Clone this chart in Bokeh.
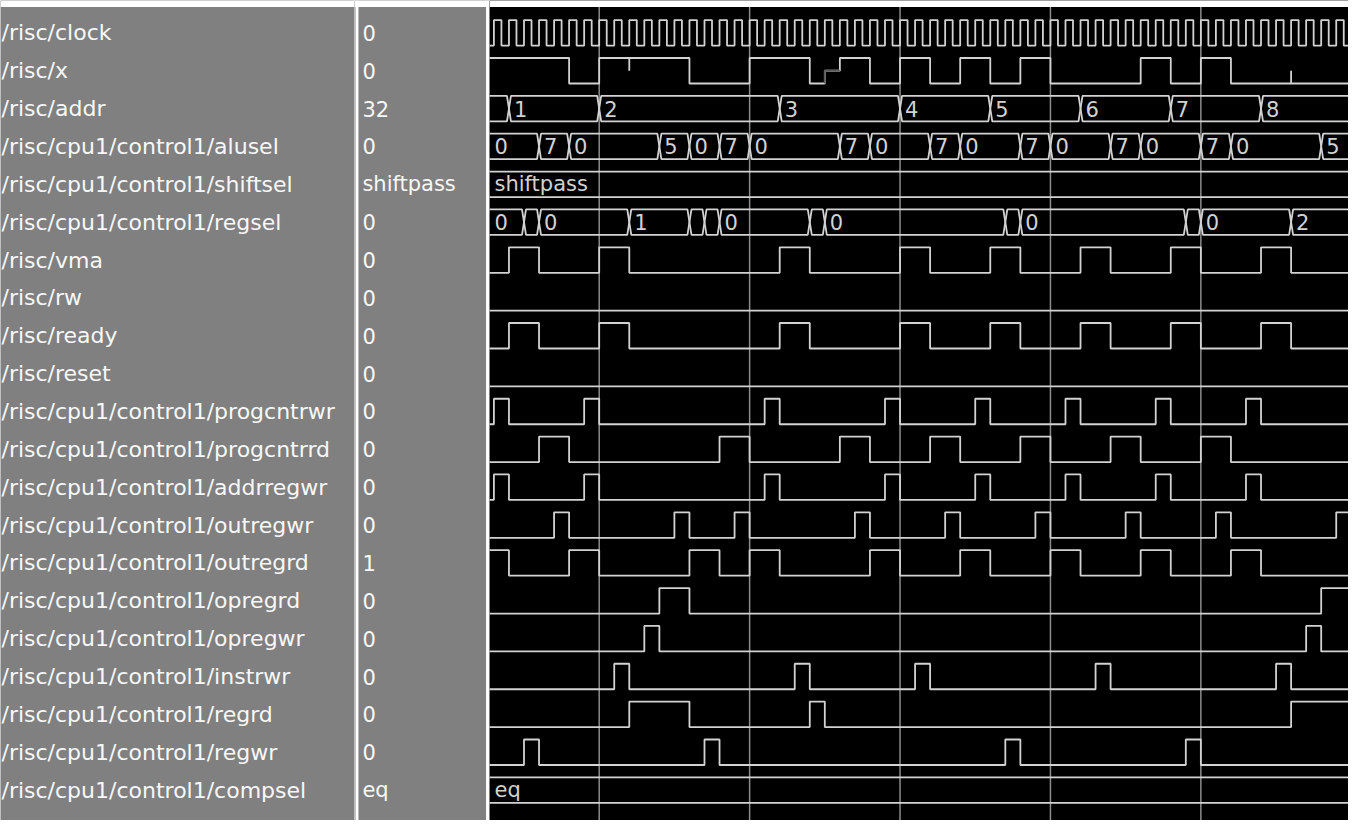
from bokeh.plotting import figure
from bokeh.layouts import row
from bokeh.models import Range1d, Span, BoxAnnotation
from bokeh.core.properties import value
from bokeh.embed import file_html
from bokeh.resources import INLINE

# ---------------- data (times in ns) ----------------
signal_names = [
    "/risc/clock", "/risc/x", "/risc/addr",
    "/risc/cpu1/control1/alusel", "/risc/cpu1/control1/shiftsel",
    "/risc/cpu1/control1/regsel", "/risc/vma", "/risc/rw", "/risc/ready",
    "/risc/reset", "/risc/cpu1/control1/progcntrwr",
    "/risc/cpu1/control1/progcntrrd", "/risc/cpu1/control1/addrregwr",
    "/risc/cpu1/control1/outregwr", "/risc/cpu1/control1/outregrd",
    "/risc/cpu1/control1/opregrd", "/risc/cpu1/control1/opregwr",
    "/risc/cpu1/control1/instrwr", "/risc/cpu1/control1/regrd",
    "/risc/cpu1/control1/regwr", "/risc/cpu1/control1/compsel",
]
cursor_values = ["0", "0", "32", "0", "shiftpass", "0", "0", "0", "0", "0",
                 "0", "0", "0", "0", "1", "0", "0", "0", "0", "0", "eq"]

grid_ticks_ns = [100, 200, 300, 400, 500]

# clock: toggle times, first level 1
clock_edges = [20, 25, 30, 35, 40, 45, 50, 55, 60, 65, 70, 75, 80, 85, 90, 95,
               100, 105, 110, 115, 120, 125, 130, 135, 140, 145, 150, 155, 160,
               165, 170, 175, 180, 185, 190, 195, 200, 205, 210, 215, 220, 225,
               230, 235, 240, 245, 250, 255, 260, 265, 270, 275, 280, 285, 290,
               295, 300, 305, 310, 315, 320, 325, 330, 335, 340, 345, 350, 355,
               360, 365, 370, 375, 380, 385, 390, 395, 400, 405, 410, 415, 420,
               425, 430, 435, 440, 445, 450, 455, 460, 465, 470, 475, 480, 485,
               490, 495, 500, 505, 510, 515, 520, 525, 530, 535, 540, 545, 550,
               555, 560, 565, 570, 575, 580, 585, 590, 595, 600]
clock_first_level = 1

x_times = [20, 80, 100, 160, 200, 240, 250, 260, 280, 300, 320, 340, 360, 380,
           400, 460, 480, 500, 520]
x_levels = [1, 0, 1, 0, 1, 0, "X", 1, 0, 1, 0, 1, 0, 1, 0, 1, 0, 1, 0]
x_glitch_times = [120, 560]

addr_times = [20, 40, 100, 220, 300, 360, 420, 480, 540]
addr_values = ["0", "1", "2", "3", "4", "5", "6", "7", "8"]

alusel_times = [20, 60, 80, 140, 160, 180, 200, 260, 280, 320, 340, 380, 400,
                440, 460, 500, 520, 580]
alusel_values = ["0", "7", "0", "5", "0", "7", "0", "7", "0", "7", "0", "7",
                 "0", "7", "0", "7", "0", "5"]

shiftsel_times = [20]
shiftsel_values = ["shiftpass"]

regsel_times = [20, 50, 60, 120, 160, 170, 180, 240, 250, 370, 380, 490, 500, 560]
regsel_values = ["0", "2", "0", "1", "2", "1", "0", "1", "0", "1", "0", "1",
                 "0", "2"]

vma_times = [20, 40, 60, 100, 120, 220, 240, 300, 320, 360, 380, 420, 440, 480,
             500, 540, 560]
vma_levels = [0, 1, 0, 1, 0, 1, 0, 1, 0, 1, 0, 1, 0, 1, 0, 1, 0]

rw_times = [20]
rw_levels = [0]

ready_times = [20, 40, 60, 100, 120, 220, 240, 300, 320, 360, 380, 420, 440,
               480, 500, 540, 560]
ready_levels = [0, 1, 0, 1, 0, 1, 0, 1, 0, 1, 0, 1, 0, 1, 0, 1, 0]

reset_times = [20]
reset_levels = [0]

progcntrwr_times = [20, 30, 40, 90, 100, 210, 220, 290, 300, 350, 360, 410, 420,
                    470, 480, 530, 540]
progcntrwr_levels = [0, 1, 0, 1, 0, 1, 0, 1, 0, 1, 0, 1, 0, 1, 0, 1, 0]

progcntrrd_times = [20, 60, 80, 180, 200, 260, 280, 320, 340, 380, 400, 440,
                    460, 500, 520]
progcntrrd_levels = [0, 1, 0, 1, 0, 1, 0, 1, 0, 1, 0, 1, 0, 1, 0]

addrregwr_times = [20, 30, 40, 90, 100, 210, 220, 290, 300, 350, 360, 410, 420,
                   470, 480, 530, 540]
addrregwr_levels = [0, 1, 0, 1, 0, 1, 0, 1, 0, 1, 0, 1, 0, 1, 0, 1, 0]

outregwr_times = [20, 70, 80, 150, 160, 190, 200, 270, 280, 330, 340, 390, 400,
                  450, 460, 510, 520, 590]
outregwr_levels = [0, 1, 0, 1, 0, 1, 0, 1, 0, 1, 0, 1, 0, 1, 0, 1, 0, 1]

outregrd_times = [20, 40, 80, 100, 160, 180, 200, 220, 280, 300, 340, 360, 400,
                  420, 460, 480, 520, 540]
outregrd_levels = [1, 0, 1, 0, 1, 0, 1, 0, 1, 0, 1, 0, 1, 0, 1, 0, 1, 0]

opregrd_times = [20, 140, 160, 580]
opregrd_levels = [0, 1, 0, 1]

opregwr_times = [20, 130, 140, 570, 580]
opregwr_levels = [0, 1, 0, 1, 0]

instrwr_times = [20, 110, 120, 230, 240, 310, 320, 430, 440, 550, 560]
instrwr_levels = [0, 1, 0, 1, 0, 1, 0, 1, 0, 1, 0]

regrd_times = [20, 120, 160, 240, 250, 560]
regrd_levels = [0, 1, 0, 1, 0, 1]

regwr_times = [20, 50, 60, 170, 180, 370, 380, 490, 500]
regwr_levels = [0, 1, 0, 1, 0, 1, 0, 1, 0]

compsel_times = [20]
compsel_values = ["eq"]

# ---------------- layout / style ----------------
# reference geometry is 1364x836; the page gets 1348x820, so scale to fit
REF_W, REF_H = 1364.0, 836.0
PAGE_W, H = 1348, 820
SX = PAGE_W / REF_W

ROW_PX = 38.6              # row pitch in reference pixels
CENTER0_PX = 33.0          # centre of first row (reference pixels)
Y_TOP = (0 - CENTER0_PX) / ROW_PX
Y_BOT = (REF_H - CENTER0_PX) / ROW_PX
WHITE_BAND_Y = (6.5 - CENTER0_PX) / ROW_PX
AMP = 13.0 / ROW_PX

NAMES_REF_END = 358.0
VALUES_REF_END = 495.0
NAMES_W = round(NAMES_REF_END * SX)
VALUES_W = round((VALUES_REF_END - NAMES_REF_END) * SX)
WAVE_W = PAGE_W - NAMES_W - VALUES_W
NS_PX = 1.522 * SX          # page pixels per ns
T_VIEW_START = 27.07
T_VIEW_END = T_VIEW_START + WAVE_W / NS_PX
T_FAR = T_VIEW_END + 40
BUS_D = 2.0 / NS_PX
LABEL_MIN_NS = 15

PANEL_BG = "#808080"
TEXT_COL = "#f8f8f8"
SIG_COL = "#d2d2d2"
DIM_COL = "#5c5c5c"
GRID_COL = "#8c8c8c"
FONT = "DejaVu Sans"
NAME_FSIZE = "22px"
FSIZE = "21px"


def make_fig(w, xr, bg):
    p = figure(width=w, height=H, x_range=xr, y_range=Range1d(Y_BOT, Y_TOP),
               output_backend="svg", toolbar_location=None, min_border=0,
               x_axis_location=None, y_axis_location=None,
               background_fill_color=bg, border_fill_color=bg,
               outline_line_color=None)
    p.grid.visible = False
    p.add_layout(BoxAnnotation(bottom=WHITE_BAND_Y, fill_color="#ffffff",
                               fill_alpha=1.0, line_color=None))
    return p


rows_idx = list(range(len(signal_names)))

# names panel (x in reference pixels)
p_names = make_fig(NAMES_W, Range1d(0, NAMES_REF_END), PANEL_BG)
p_names.text(x=[1] * len(signal_names), y=rows_idx, text=signal_names,
             text_color=TEXT_COL, text_font=value(FONT),
             text_font_size=NAME_FSIZE,
             text_baseline="middle", text_align="left")

# values panel (x in reference pixels)
p_vals = make_fig(VALUES_W, Range1d(NAMES_REF_END, VALUES_REF_END), PANEL_BG)
p_vals.add_layout(Span(location=360.5, dimension="height", line_color="#ffffff",
                       line_width=3))
p_vals.add_layout(Span(location=493, dimension="height", line_color="#ffffff",
                       line_width=3))
p_vals.text(x=[366] * len(cursor_values), y=rows_idx, text=cursor_values,
            text_color=TEXT_COL, text_font=value(FONT), text_font_size=FSIZE,
            text_baseline="middle", text_align="left")

# wave panel (x in ns)
p_wave = make_fig(WAVE_W, Range1d(T_VIEW_START, T_VIEW_END), "#000000")
for t in grid_ticks_ns:
    p_wave.add_layout(Span(location=t, dimension="height", line_color=GRID_COL,
                           line_width=1.5, level="underlay"))


def ly(i, lv):
    if lv == 1:
        return i - AMP
    if lv == 0:
        return i + AMP
    return i


def draw_bits(i, times, levels):
    xs = list(times) + [T_FAR]
    ys = [ly(i, lv) for lv in levels] + [ly(i, levels[-1])]
    p_wave.step(xs, ys, mode="after", line_color=SIG_COL, line_width=1.8)
    # unknown segments drawn dim
    for k, lv in enumerate(levels):
        if lv == "X" and k > 0:
            b = times[k + 1] if k + 1 < len(times) else T_FAR
            p_wave.line([times[k], times[k], b], [ly(i, levels[k - 1]), i, i],
                        line_color=DIM_COL, line_width=1.8)


label_x, label_y, label_t = [], [], []


def draw_bus(i, times, vals):
    ends = list(times[1:]) + [T_FAR]
    xs_all, ys_all = [], []
    for a, b, v in zip(times, ends, vals):
        xs_all.append([a, a + BUS_D, b - BUS_D, b, b - BUS_D, a + BUS_D, a])
        ys_all.append([i, i - AMP, i - AMP, i, i + AMP, i + AMP, i])
        vis_a = max(a, T_VIEW_START)
        if min(b, T_FAR) - vis_a >= LABEL_MIN_NS:
            label_x.append(vis_a)
            label_y.append(i)
            label_t.append(v)
    p_wave.multi_line(xs_all, ys_all, line_color=SIG_COL, line_width=1.8)


# clock
clk_levels = []
lv = clock_first_level
for _ in clock_edges:
    clk_levels.append(lv)
    lv = 1 - lv
draw_bits(0, clock_edges, clk_levels)

draw_bits(1, x_times, x_levels)
p_wave.segment(x0=x_glitch_times, y0=[ly(1, 1), ly(1, 0)], x1=x_glitch_times,
               y1=[1, 1], line_color=SIG_COL, line_width=1.8)

draw_bus(2, addr_times, addr_values)
draw_bus(3, alusel_times, alusel_values)
draw_bus(4, shiftsel_times, shiftsel_values)
draw_bus(5, regsel_times, regsel_values)
draw_bits(6, vma_times, vma_levels)
draw_bits(7, rw_times, rw_levels)
draw_bits(8, ready_times, ready_levels)
draw_bits(9, reset_times, reset_levels)
draw_bits(10, progcntrwr_times, progcntrwr_levels)
draw_bits(11, progcntrrd_times, progcntrrd_levels)
draw_bits(12, addrregwr_times, addrregwr_levels)
draw_bits(13, outregwr_times, outregwr_levels)
draw_bits(14, outregrd_times, outregrd_levels)
draw_bits(15, opregrd_times, opregrd_levels)
draw_bits(16, opregwr_times, opregwr_levels)
draw_bits(17, instrwr_times, instrwr_levels)
draw_bits(18, regrd_times, regrd_levels)
draw_bits(19, regwr_times, regwr_levels)
draw_bus(20, compsel_times, compsel_values)

p_wave.text(x=label_x, y=label_y, text=label_t, x_offset=5,
            text_color=SIG_COL, text_font=value(FONT), text_font_size=FSIZE,
            text_baseline="middle", text_align="left")

layout = row(p_names, p_vals, p_wave, spacing=0)
open("out.html", "w").write(file_html(layout, INLINE))
